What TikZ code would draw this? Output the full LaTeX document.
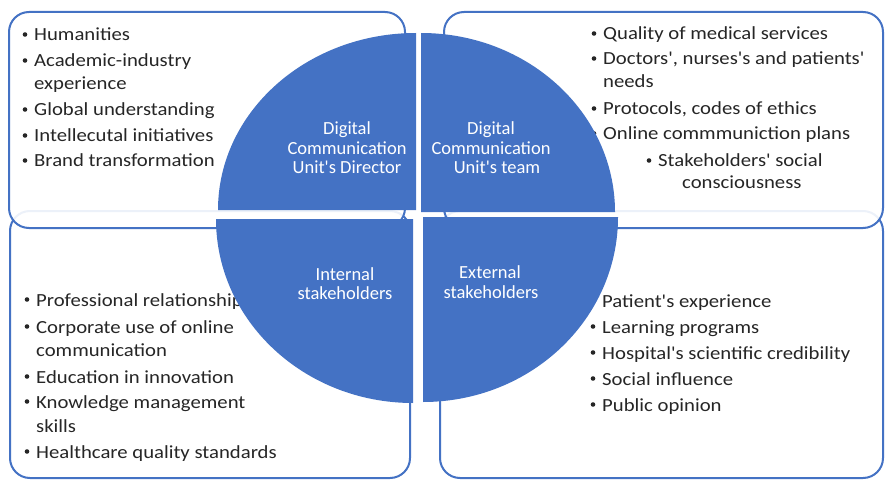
\documentclass[tikz,border=0pt]{standalone}
\usepackage{fontspec}
\setmainfont{Carlito}[Ligatures=TeXOff]
\newfontfamily\blkfont{Carlito}[FakeStretch=1.12,Ligatures=TeXOff]
\usetikzlibrary{calc}
\definecolor{accent}{RGB}{68,114,196}
\definecolor{ink}{RGB}{38,38,38}
\tikzset{
  panel/.style={draw=accent, line width=2pt, rounded corners=20pt, fill=white},
  toppanel/.style={panel, fill opacity=0.9},
  itemtext/.style={anchor=base west, inner sep=0pt, text=ink, font=\blkfont\fontsize{18.5}{20}\selectfont},
  bulletdot/.style={circle, fill=ink, inner sep=0pt, minimum size=4.6pt},
  quad/.style={fill=accent},
  qtext/.style={anchor=base, inner sep=0pt, text=white, font=\fontsize{18.5}{20}\selectfont},
}
\newcommand\bitem[4]{%
  \node[itemtext] (#1) at (#2,#3) {#4};
  \node[bulletdot] (#1b) at ($(#1.base west)+(-9,6.5)$) {};}
\newcommand\pitem[4]{\node[itemtext] (#1) at (#2,#3) {#4};}
\begin{document}
\begin{tikzpicture}[x=1pt,y=1pt]
\useasboundingbox (0,0) rectangle (885,480);
% bottom panels
\path[panel] (10,2) rectangle (410,269);
\path[panel] (440,2) rectangle (883,269);
% top panels
\path[toppanel] (9,252) rectangle (405,468);
\path[toppanel] (444,252) rectangle (883,468);
% top-left items
\bitem{h}{34}{439}{Humanities}
\bitem{a}{34}{413}{Academic-industry}
\pitem{a2}{34}{390}{experience}
\bitem{g}{34}{364}{Global understanding}
\bitem{i}{34}{338}{Intellecutal initiatives}
\bitem{br}{34}{313}{Brand transformation}
% top-right items
\bitem{q}{603}{440}{Quality of medical services}
\bitem{d}{603}{415}{Doctors', nurses's and patients'}
\pitem{d2}{603}{392}{needs}
\bitem{p}{603}{365}{Protocols, codes of ethics}
\bitem{o}{603}{340}{Online commmuniction plans}
\bitem{s}{658}{313}{Stakeholders' social}
\pitem{s2}{682}{291}{consciousness}
% bottom-left items
\bitem{pr}{36}{174}{Professional relationships}
\bitem{c}{36}{147}{Corporate use of online}
\pitem{c2}{36}{124}{communication}
\bitem{e}{36}{97}{Education in innovation}
\bitem{k}{36}{72}{Knowledge management}
\pitem{k2}{36}{48}{skills}
\bitem{hq}{36}{22}{Healthcare quality standards}
% bottom-right items
\bitem{pe}{602}{173}{Patient's experience}
\bitem{l}{602}{147}{Learning programs}
\bitem{hs}{602}{121}{Hospital's scientific credibility}
\bitem{so}{602}{95}{Social influence}
\bitem{pu}{602}{69}{Public opinion}
% circle quadrants
\fill[quad] (416,270) -- (218,270) arc[start angle=180, end angle=90, x radius=198, y radius=177] -- cycle;
\fill[quad] (421,268) -- (421,447) arc[start angle=90, end angle=0, x radius=194, y radius=179] -- cycle;
\fill[quad] (413,261) -- (216,261) arc[start angle=180, end angle=270, x radius=197, y radius=184] -- cycle;
\fill[quad] (423,263) -- (618,263) arc[start angle=0, end angle=-90, x radius=195, y radius=185] -- cycle;
% quadrant texts
\node[qtext] (dir1) at (347,345) {Digital};
\node[qtext] (dir2) at (347,325) {Communication};
\node[qtext] (dir3) at (347,307) {Unit's Director};
\node[qtext] (tm1) at (491,345) {Digital};
\node[qtext] (tm2) at (491,325) {Communication};
\node[qtext] (tm3) at (497,307) {Unit's team};
\node[qtext] (in1) at (345,200) {Internal};
\node[qtext] (in2) at (345,181) {stakeholders};
\node[qtext] (ex1) at (490,202) {External};
\node[qtext] (ex2) at (491,182) {stakeholders};
\end{tikzpicture}
\end{document}
